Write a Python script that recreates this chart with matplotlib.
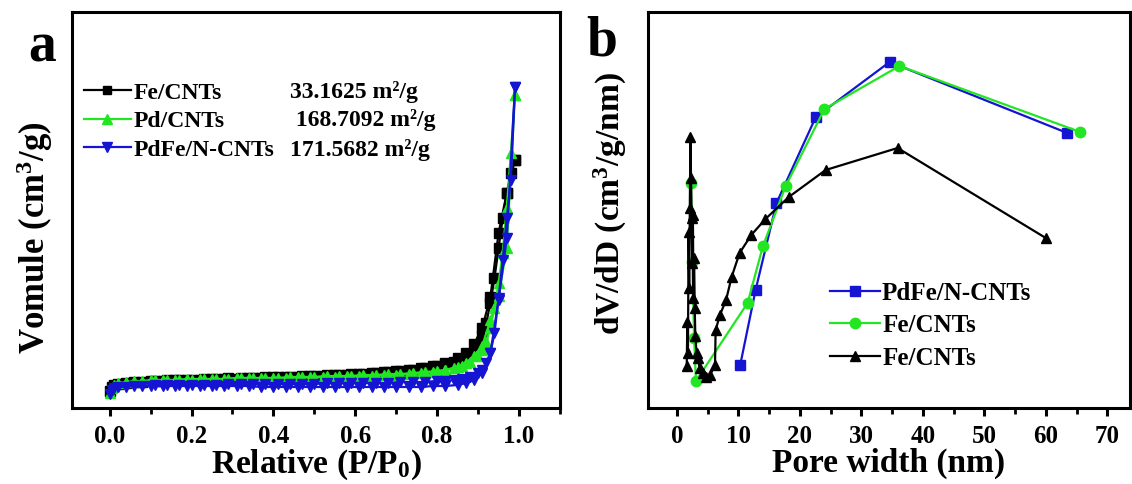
import matplotlib
matplotlib.use('Agg')
import matplotlib.pyplot as plt

plt.rcParams['font.family'] = ['Liberation Serif', 'DejaVu Serif']
plt.rcParams['font.weight'] = 'bold'
plt.rcParams['mathtext.fontset'] = 'custom'
plt.rcParams['mathtext.rm'] = 'Liberation Serif:bold'
plt.rcParams['mathtext.it'] = 'Liberation Serif:bold'
plt.rcParams['mathtext.bf'] = 'Liberation Serif:bold'
plt.rcParams['mathtext.default'] = 'rm'

# ---- panel a: N2 isotherms (arbitrary volume units) ----
p_ads = [0.001, 0.005, 0.01, 0.02, 0.04, 0.06, 0.08, 0.10, 0.13, 0.16,
         0.19, 0.22, 0.25, 0.28, 0.31, 0.34, 0.37, 0.40, 0.43, 0.46,
         0.49, 0.52, 0.55, 0.58, 0.61, 0.64, 0.67, 0.70, 0.73, 0.76,
         0.79, 0.82, 0.85, 0.87, 0.89, 0.91, 0.93, 0.95, 0.97, 0.99]
p_des = [0.99, 0.98, 0.97, 0.96, 0.95, 0.94, 0.93, 0.92, 0.91, 0.90,
         0.88, 0.86, 0.84, 0.82, 0.80, 0.77, 0.74, 0.71, 0.68, 0.65,
         0.62, 0.59, 0.56, 0.53, 0.50, 0.47, 0.44, 0.41, 0.38, 0.35,
         0.32, 0.29, 0.26, 0.23, 0.20, 0.17, 0.14, 0.11]

fe_ads = [17, 21, 23, 24, 25, 26, 26, 27, 27, 28, 28, 28, 29, 29, 29, 30, 30, 31, 31, 31,
          32, 32, 33, 33, 34, 35, 36, 37, 38, 40, 42, 45, 50, 55, 64, 80, 111, 175, 215, 248]
fe_des = [248, 235, 215, 190, 160, 130, 105, 85, 72, 63, 54, 49, 46, 44, 42, 40, 38, 37, 36, 35,
          34, 34, 33, 33, 32, 32, 31, 31, 31, 30, 30, 30, 29, 29, 28, 28, 28, 27]
pd_ads = [15, 20, 23, 25, 26, 27, 27, 28, 28, 28, 29, 29, 29, 29, 30, 30, 30, 30, 30, 31,
          31, 31, 31, 32, 32, 32, 33, 33, 34, 35, 36, 38, 41, 45, 52, 62, 88, 112, 160, 313]
pd_des = [313, 255, 200, 155, 125, 100, 80, 66, 58, 52, 46, 42, 40, 38, 37, 36, 35, 34, 34, 33,
          33, 32, 32, 32, 31, 31, 31, 30, 30, 30, 30, 29, 29, 29, 28, 28, 28, 28]
pdfe_ads = [14, 18, 20, 21, 21, 22, 22, 22, 22, 22, 22, 22, 22, 22, 22, 22, 21, 21, 21, 21,
            21, 21, 21, 21, 21, 21, 21, 21, 21, 21, 22, 22, 23, 25, 28, 35, 55, 108, 170, 321]
pdfe_des = [321, 228, 190, 148, 110, 75, 55, 45, 38, 35, 31, 29, 28, 27, 27, 26, 26, 26, 25, 25,
            25, 25, 25, 25, 24, 24, 24, 24, 24, 24, 24, 24, 23, 23, 23, 23, 23, 23]

names_a = ['Fe/CNTs', 'Pd/CNTs', 'PdFe/N-CNTs']
areas_a = ['33.1625 m\u00b2/g', ' 168.7092 m\u00b2/g', '171.5682 m\u00b2/g']

# ---- panel b: pore size distribution ----
pdfe_w = [10.3, 12.8, 16.2, 22.6, 34.6, 63.5]
pdfe_v = [43, 118, 205, 291, 346, 275]
fe_g_w = [2.3, 2.5, 2.8, 3.1, 11.5, 14.0, 17.7, 24.0, 36.2, 65.6]
fe_g_v = [225, 146, 70, 27, 105, 162, 222, 299, 342, 276]
fe_k_w = [1.6, 1.7, 1.8, 1.9, 2.0, 2.1, 2.2, 2.3, 2.4, 2.5, 2.6, 2.7, 2.8, 2.9, 3.0, 3.2, 3.4,
          3.7, 4.2, 4.8, 5.4, 6.2, 6.3, 7.0, 8.0, 8.9, 10.2, 12.1, 14.4, 18.2, 24.2, 35.9, 60.0]
fe_k_v = [42, 86, 55, 176, 120, 200, 271, 230, 190, 145, 193, 110, 150, 100, 72, 55, 50,
          40, 35, 31, 33, 43, 78, 93, 108, 131, 155, 173, 189, 211, 238, 260, 170]
names_b = ['PdFe/N-CNTs', 'Fe/CNTs', 'Fe/CNTs']

BLACK = '#000000'
GREEN = '#22e622'
BLUE = '#1414d2'

fig = plt.figure(figsize=(11.32, 4.84), dpi=100)
ax1 = fig.add_axes([72/1132, 76/484, 488/1132, 396/484])
ax2 = fig.add_axes([648/1132, 76/484, 482/1132, 396/484])

def style(ax):
    for s in ax.spines.values():
        s.set_linewidth(2.2)
    ax.tick_params(axis='x', which='major', direction='out', length=6, width=2.2,
                   labelsize=18, pad=6)
    ax.tick_params(axis='x', which='minor', direction='out', length=4, width=2)
    ax.set_yticks([])
    for t in ax.get_xticklabels():
        t.set_fontweight('bold')

# panel a
ax1.plot(p_ads, fe_ads, '-s', color=BLACK, ms=6.5, lw=1.6)
ax1.plot(p_des, fe_des, '-s', color=BLACK, ms=6.5, lw=1.6)
ax1.plot(p_ads, pd_ads, '-^', color=GREEN, ms=7, lw=1.6)
ax1.plot(p_des, pd_des, '-^', color=GREEN, ms=7, lw=1.6)
ax1.plot(p_ads, pdfe_ads, '-v', color=BLUE, ms=7, lw=1.6)
ax1.plot(p_des, pdfe_des, '-v', color=BLUE, ms=7, lw=1.6)
ax1.set_xlim(-0.092, 1.092)
ax1.set_ylim(0, 396)
ax1.set_xticks([0.0, 0.2, 0.4, 0.6, 0.8, 1.0])
ax1.set_xticks([0.1, 0.3, 0.5, 0.7, 0.9, 1.1], minor=True)
ax1.set_xticklabels(['0.0', '0.2', '0.4', '0.6', '0.8', '1.0'])
style(ax1)
ax1.set_xlabel('Relative (P/P$_0$)', fontsize=24, fontweight='bold', labelpad=0)
ax1.set_ylabel('Vomule (cm$^3$/g)', fontsize=25, fontweight='bold')
ax1.yaxis.set_label_coords(-0.035, 0.43)

hs = [plt.Line2D([], [], color=BLACK, marker='s', ms=6, lw=1.6),
      plt.Line2D([], [], color=GREEN, marker='^', ms=7, lw=1.6),
      plt.Line2D([], [], color=BLUE, marker='v', ms=7, lw=1.6)]
ax1.legend(hs, names_a, loc='upper left', bbox_to_anchor=(-0.01, 0.865),
           frameon=False, prop={'size': 17, 'weight': 'bold'},
           handlelength=2.0, handletextpad=0.1, labelspacing=0.3,
           borderaxespad=0.3)
row_y = [0.798, 0.727, 0.652]
for lab, yy in zip(areas_a, row_y):
    ax1.text(0.447, yy, lab, transform=ax1.transAxes, fontsize=17,
             fontweight='bold', va='center', ha='left')

# panel b
ax2.plot(pdfe_w, pdfe_v, '-s', color=BLUE, ms=7, lw=1.6, label=names_b[0])
ax2.plot(fe_g_w, fe_g_v, '-o', color=GREEN, ms=7.5, lw=1.6, label=names_b[1])
ax2.plot(fe_k_w, fe_k_v, '-^', color=BLACK, ms=7.5, lw=1.6, label=names_b[2])
ax2.set_xlim(-4.7, 73.7)
ax2.set_ylim(0, 396)
ax2.set_xticks(range(0, 71, 10))
ax2.set_xticks(range(5, 74, 10), minor=True)
style(ax2)
ax2.set_xlabel('Pore width (nm)', fontsize=24, fontweight='bold', labelpad=0)
ax2.set_ylabel('dV/dD (cm$^3$/g/nm)', fontsize=24, fontweight='bold')
ax2.yaxis.set_label_coords(-0.04, 0.515)
ax2.legend(loc='lower left', bbox_to_anchor=(0.33, 0.04), frameon=False,
           prop={'size': 18, 'weight': 'bold'}, handlelength=2.0,
           handletextpad=0.1, labelspacing=0.38)

fig.text(28/1132, 1 - 62/484, 'a', fontsize=40, fontweight='bold')
fig.text(586/1132, 1 - 55/484, 'b', fontsize=40, fontweight='bold')

fig.savefig('out.png', dpi=100)
